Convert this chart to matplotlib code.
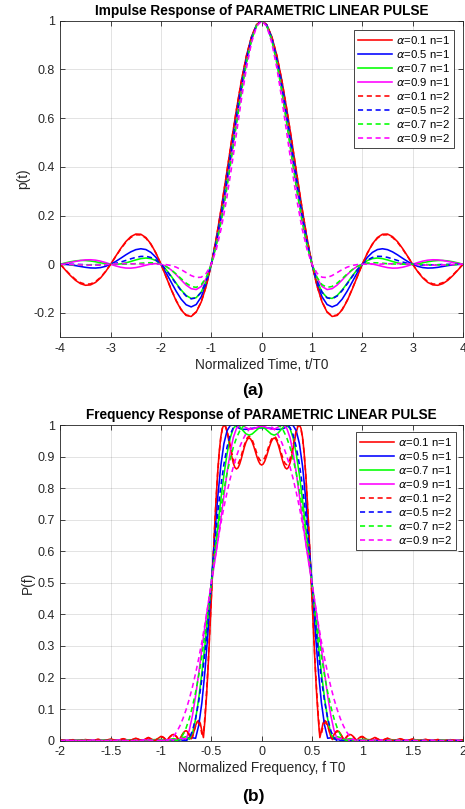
import numpy as np
import matplotlib
matplotlib.use('Agg')
import matplotlib.pyplot as plt

plt.rcParams['font.family'] = ['Liberation Sans', 'DejaVu Sans']

# ---- impulse response, t = 0..4 step 0.1 (curve is even, mirrored below)
t_half = np.round(np.arange(0, 41) * 0.1, 2)

p_a01_n1 = [1, 0.9836, 0.9354, 0.8581, 0.7563, 0.6359, 0.5039, 0.3672, 0.2333, 0.1089, 0,
            -0.0890, -0.1550, -0.1967, -0.2145, -0.2102, -0.1872, -0.1497, -0.1025, -0.0510, 0,
            0.0460, 0.0833, 0.1096, 0.1231, 0.1240, 0.1132, 0.0925, 0.0646, 0.0327, 0,
            -0.0305, -0.0561, -0.0746, -0.0848, -0.0864, -0.0797, -0.0658, -0.0463, -0.0237, 0]
p_a05_n1 = [1, 0.9826, 0.9317, 0.8505, 0.7444, 0.6204, 0.4861, 0.3497, 0.2188, 0.1004, 0,
            -0.0787, -0.1338, -0.1654, -0.1752, -0.1664, -0.1432, -0.1103, -0.0726, -0.0346, 0,
            0.0283, 0.0486, 0.0603, 0.0636, 0.0599, 0.0508, 0.0384, 0.0246, 0.0113, 0,
            -0.0085, -0.0137, -0.0157, -0.0151, -0.0127, -0.0092, -0.0056, -0.0026, -0.0006, 0]
p_a07_n1 = [1, 0.9816, 0.9280, 0.8429, 0.7327, 0.6050, 0.4688, 0.3326, 0.2049, 0.0923, 0,
            -0.0691, -0.1144, -0.1372, -0.1404, -0.1283, -0.1056, -0.0775, -0.0482, -0.0215, 0,
            0.0150, 0.0232, 0.0255, 0.0230, 0.0177, 0.0114, 0.0055, 0.0014, -0.0005, 0,
            0.0025, 0.0061, 0.0101, 0.0134, 0.0153, 0.0155, 0.0137, 0.0101, 0.0054, 0]
p_a09_n1 = [1, 0.9804, 0.9231, 0.8329, 0.7171, 0.5849, 0.4462, 0.3107, 0.1871, 0.0821, 0,
            -0.0575, -0.0912, -0.1040, -0.1003, -0.0853, -0.0644, -0.0424, -0.0230, -0.0085, 0,
            0.0027, 0.0009, -0.0038, -0.0092, -0.0138, -0.0161, -0.0156, -0.0123, -0.0068, 0,
            0.0068, 0.0127, 0.0167, 0.0184, 0.0179, 0.0154, 0.0116, 0.0072, 0.0032, 0]
p_a01_n2 = [1, 0.9836, 0.9352, 0.8578, 0.7558, 0.6352, 0.5032, 0.3665, 0.2327, 0.1085, 0,
            -0.0886, -0.1541, -0.1953, -0.2128, -0.2083, -0.1852, -0.1479, -0.1011, -0.0502, 0,
            0.0452, 0.0816, 0.1072, 0.1202, 0.1208, 0.1101, 0.0897, 0.0625, 0.0316, 0,
            -0.0293, -0.0538, -0.0713, -0.0808, -0.0821, -0.0755, -0.0622, -0.0436, -0.0222, 0]
p_a05_n2 = [1, 0.9816, 0.9279, 0.8427, 0.7322, 0.6046, 0.4683, 0.3324, 0.2047, 0.0922, 0,
            -0.0693, -0.1149, -0.1381, -0.1420, -0.1305, -0.1084, -0.0803, -0.0507, -0.0231, 0,
            0.0171, 0.0278, 0.0325, 0.0321, 0.0282, 0.0222, 0.0154, 0.0091, 0.0038, 0,
            -0.0023, -0.0032, -0.0032, -0.0026, -0.0018, -0.0010, -0.0004, -0.0001, 0.0000, 0]
p_a07_n2 = [1, 0.9796, 0.9206, 0.8277, 0.7093, 0.5750, 0.4355, 0.3007, 0.1795, 0.0780, 0,
            -0.0534, -0.0840, -0.0950, -0.0912, -0.0775, -0.0590, -0.0396, -0.0224, -0.0089, 0,
            0.0048, 0.0063, 0.0058, 0.0042, 0.0025, 0.0011, 0.0003, 0.0000, 0.0000, 0,
            -0.0002, -0.0006, -0.0013, -0.0020, -0.0026, -0.0029, -0.0027, -0.0021, -0.0011, 0]
p_a09_n2 = [1, 0.9772, 0.9108, 0.8082, 0.6795, 0.5374, 0.3945, 0.2624, 0.1497, 0.0617, 0,
            -0.0370, -0.0533, -0.0546, -0.0465, -0.0343, -0.0219, -0.0119, -0.0051, -0.0014, 0,
            0.0002, 0.0000, 0.0001, 0.0007, 0.0015, 0.0022, 0.0026, 0.0023, 0.0014, 0,
            -0.0015, -0.0028, -0.0036, -0.0038, -0.0035, -0.0028, -0.0019, -0.0011, -0.0004, 0]

# ---- frequency response, f >= 0 (even, mirrored below)
f_tail = 1 + np.arange(1, 17) / 16
f_fine = np.concatenate([np.arange(0, 65) / 64, f_tail])
f_coarse = np.concatenate([np.arange(0, 33) / 32, f_tail])

P_a01_n1 = [0.8732, 0.8764, 0.8856, 0.8994, 0.9157, 0.9322, 0.9462, 0.9556, 0.9589, 0.9553,
            0.9451, 0.9297, 0.9112, 0.8922, 0.8758, 0.8646, 0.8607, 0.8655, 0.8791, 0.9001,
            0.9261, 0.9534, 0.9779, 0.9948, 1.0000, 0.9896, 0.9611, 0.9131, 0.8462, 0.7622,
            0.6645, 0.5576, 0.4469, 0.3377, 0.2355, 0.1446, 0.0687, 0.0099, 0.0312, 0.0551,
            0.0639, 0.0604, 0.0481, 0.0307, 0.0117, 0.0059, 0.0198, 0.0285, 0.0317, 0.0296,
            0.0233, 0.0144, 0.0044, 0.0052, 0.0129, 0.0179, 0.0198, 0.0185, 0.0145, 0.0088,
            0.0023, 0.0040, 0.0092, 0.0125, 0.0137,
            0, 0.0104, 0, 0.0080, 0, 0.0064, 0, 0.0053, 0, 0.0044, 0, 0.0037, 0, 0.0032, 0, 0.0028]
P_a01_n2 = [0.8854, 0.8883, 0.8968, 0.9094, 0.9245, 0.9395, 0.9524, 0.9609, 0.9638, 0.9604,
            0.9509, 0.9366, 0.9196, 0.9022, 0.8873, 0.8772, 0.8741, 0.8790, 0.8919, 0.9116,
            0.9356, 0.9606, 0.9825, 0.9970, 1.0000, 0.9879, 0.9584, 0.9102, 0.8438, 0.7611,
            0.6652, 0.5605, 0.4521, 0.3451, 0.2446, 0.1551, 0.0797, 0.0208, 0.0211, 0.0464,
            0.0570, 0.0556, 0.0454, 0.0300, 0.0126, 0.0037, 0.0169, 0.0254, 0.0288, 0.0273,
            0.0219, 0.0138, 0.0047, 0.0042, 0.0114, 0.0162, 0.0181, 0.0170, 0.0136, 0.0084,
            0.0024, 0.0034, 0.0082, 0.0113, 0.0125,
            0, 0.0094, 0, 0.0072, 0, 0.0058, 0, 0.0048, 0, 0.0040, 0, 0.0033, 0, 0.0029, 0, 0.0025]
P_a05_n1 = [0.9908, 0.9908, 0.9905, 0.9896, 0.9879, 0.9863, 0.9862, 0.9891, 0.9947, 0.9999,
            0.9985, 0.9817, 0.9408, 0.8695, 0.7669, 0.6382, 0.4949, 0.3515, 0.2229, 0.1201,
            0.0487, 0.0076, 0.0093, 0.0105, 0.0049, 0.0011, 0.0041, 0.0037, 0.0014, 0.0010,
            0.0022, 0.0018, 0.0006,
            0.0010, 0.0012, 0.0008, 0.0004, 0.0008, 0.0010, 0.0006, 0.0003,
            0.0006, 0.0008, 0.0005, 0.0002, 0.0005, 0.0006, 0.0004, 0.0002]
P_a07_n1 = [0.9927, 0.9892, 0.9805, 0.9716, 0.9678, 0.9721, 0.9831, 0.9950, 0.9996, 0.9893,
            0.9591, 0.9088, 0.8413, 0.7621, 0.6758, 0.5857, 0.4932, 0.3991, 0.3051, 0.2149,
            0.1339, 0.0682, 0.0218, 0.0042, 0.0129, 0.0099, 0.0024, 0.0041, 0.0065, 0.0047,
            0.0007, 0.0028, 0.0041,
            0.0035, 0.0020, 0.0008, 0.0025, 0.0030, 0.0015, 0.0006, 0.0020,
            0.0024, 0.0012, 0.0005, 0.0016, 0.0020, 0.0010, 0.0004, 0.0013]
P_a09_n1 = [0.9964, 0.9945, 0.9901, 0.9866, 0.9870, 0.9919, 0.9982, 0.9997, 0.9891, 0.9607,
            0.9129, 0.8489, 0.7753, 0.6997, 0.6275, 0.5606, 0.4971, 0.4327, 0.3639, 0.2899,
            0.2136, 0.1411, 0.0791, 0.0332, 0.0052, 0.0067, 0.0075, 0.0031, 0.0016, 0.0038,
            0.0030, 0.0007, 0.0015,
            0.0005, 0.0025, 0.0030, 0.0012, 0.0004, 0.0020, 0.0024, 0.0010,
            0.0003, 0.0016, 0.0020, 0.0008, 0.0003, 0.0013, 0.0016, 0.0006]
P_a05_n2 = [1, 1, 1, 1, 1, 1, 1, 1, 1, 0.9922,
            0.9688, 0.9297, 0.8750, 0.8047, 0.7188, 0.6172, 0.5000, 0.3828, 0.2813, 0.1953,
            0.1250, 0.0703, 0.0313, 0.0078, 0, 0, 0, 0, 0, 0,
            0, 0, 0,
            0, 0, 0, 0, 0, 0, 0, 0, 0, 0, 0, 0, 0, 0, 0, 0]
P_a07_n2 = [1, 1, 1, 1, 1, 0.9998, 0.9943, 0.9807, 0.9592, 0.9297,
            0.8922, 0.8468, 0.7934, 0.7320, 0.6626, 0.5853, 0.5000, 0.4147, 0.3374, 0.2680,
            0.2066, 0.1532, 0.1078, 0.0703, 0.0408, 0.0193, 0.0057, 0.0002, 0, 0,
            0, 0, 0,
            0, 0, 0, 0, 0, 0, 0, 0, 0, 0, 0, 0, 0, 0, 0, 0]
P_a09_n2 = [1, 1, 0.9996, 0.9953, 0.9861, 0.9721, 0.9533, 0.9297, 0.9012, 0.8680,
            0.8299, 0.7869, 0.7392, 0.6866, 0.6292, 0.5670, 0.5000, 0.4330, 0.3708, 0.3134,
            0.2608, 0.2131, 0.1701, 0.1320, 0.0988, 0.0703, 0.0467, 0.0279, 0.0139, 0.0047,
            0.0004, 0, 0,
            0, 0, 0, 0, 0, 0, 0, 0, 0, 0, 0, 0, 0, 0, 0, 0]

labels = [r'$\alpha$=0.1 n=1', r'$\alpha$=0.5 n=1', r'$\alpha$=0.7 n=1', r'$\alpha$=0.9 n=1',
          r'$\alpha$=0.1 n=2', r'$\alpha$=0.5 n=2', r'$\alpha$=0.7 n=2', r'$\alpha$=0.9 n=2']
colors = ['#ff0000', '#0000ff', '#00ff00', '#ff00ff'] * 2
styles = ['-'] * 4 + [(0, (3.2, 2.3))] * 4


def mirror(x, y):
    x = np.asarray(x, float)
    y = np.asarray(y, float)
    return np.concatenate([-x[::-1], x[1:]]), np.concatenate([y[::-1], y[1:]])


def style_axes(ax):
    ax.grid(True, color='#262626', alpha=0.15, linewidth=0.6)
    ax.tick_params(direction='in', top=True, right=True, length=3.5, width=0.6,
                   labelsize=9, colors='#262626', pad=4)
    for s in ax.spines.values():
        s.set_color('#262626')
        s.set_linewidth(0.6)
    ax.set_axisbelow(True)


def add_legend(ax, pad):
    leg = ax.legend(loc='upper right', fontsize=8.2, frameon=True, fancybox=False, framealpha=1,
                    edgecolor='#262626', handlelength=3.0, labelspacing=0.18, borderaxespad=pad,
                    handletextpad=0.35, borderpad=0.35)
    leg.get_frame().set_linewidth(0.6)


W, H = 465, 809
fig = plt.figure(figsize=(W / 100, H / 100), dpi=100)

# top panel
ax1 = fig.add_axes([60.3 / W, 1 - 337.3 / H, 402.7 / W, 316.6 / H])
imp = [p_a01_n1, p_a05_n1, p_a07_n1, p_a09_n1, p_a01_n2, p_a05_n2, p_a07_n2, p_a09_n2]
for y, c, ls, lab in zip(imp, colors, styles, labels):
    xx, yy = mirror(t_half, y)
    ax1.plot(xx, yy, color=c, linestyle=ls, linewidth=1.15, label=lab)
ax1.set_xlim(-4, 4)
ax1.set_ylim(-0.3, 1)
ax1.set_xticks(np.arange(-4, 5, 1))
ax1.set_yticks([-0.2, 0, 0.2, 0.4, 0.6, 0.8, 1])
ax1.set_yticklabels(['-0.2', '0', '0.2', '0.4', '0.6', '0.8', '1'])
ax1.set_xticklabels([str(v) for v in range(-4, 5)])
style_axes(ax1)
ax1.set_title('Impulse Response of PARAMETRIC LINEAR PULSE', fontsize=9.8, fontweight='bold', pad=4)
ax1.set_xlabel('Normalized Time, t/T0', fontsize=9.8, color='#262626', labelpad=2)
ax1.set_ylabel('p(t)', fontsize=9.8, color='#262626', labelpad=2)
add_legend(ax1, 0.8)

# bottom panel
ax2 = fig.add_axes([60.3 / W, 1 - 740.7 / H, 402.7 / W, 315.7 / H])
freq = [(f_fine, P_a01_n1), (f_coarse, P_a05_n1), (f_coarse, P_a07_n1), (f_coarse, P_a09_n1),
        (f_fine, P_a01_n2), (f_coarse, P_a05_n2), (f_coarse, P_a07_n2), (f_coarse, P_a09_n2)]
for (fx, y), c, ls, lab in zip(freq, colors, styles, labels):
    xx, yy = mirror(fx, y)
    ax2.plot(xx, yy, color=c, linestyle=ls, linewidth=1.15, label=lab)
ax2.set_xlim(-2, 2)
ax2.set_ylim(0, 1)
ax2.set_xticks(np.arange(-2, 2.01, 0.5))
ax2.set_xticklabels(['-2', '-1.5', '-1', '-0.5', '0', '0.5', '1', '1.5', '2'])
ax2.set_yticks(np.arange(0, 1.01, 0.1))
ax2.set_yticklabels(['0', '0.1', '0.2', '0.3', '0.4', '0.5', '0.6', '0.7', '0.8', '0.9', '1'])
style_axes(ax2)
ax2.set_title('Frequency Response of PARAMETRIC LINEAR PULSE', fontsize=9.8, fontweight='bold', pad=4)
ax2.set_xlabel('Normalized Frequency, f T0', fontsize=9.8, color='#262626', labelpad=2)
ax2.set_ylabel('P(f)', fontsize=9.8, color='#262626', labelpad=2)
add_legend(ax2, 0.6)

fig.text(253 / W, 1 - 391 / H, '(a)', ha='center', va='center', fontsize=12.5, fontweight='bold')
fig.text(253 / W, 1 - 796 / H, '(b)', ha='center', va='center', fontsize=12.5, fontweight='bold')

fig.savefig('out.png', dpi=100)
